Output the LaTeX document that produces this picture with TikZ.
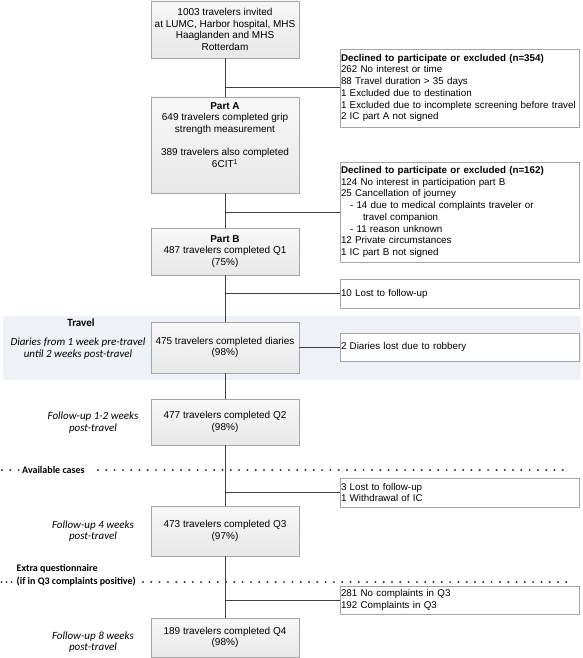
\documentclass[tikz,border=0pt]{standalone}
\usepackage{fontspec}
\setmainfont{Liberation Sans}
\newfontfamily\calfont{Carlito}
\definecolor{bandcol}{RGB}{238,242,246}
\definecolor{linecol}{RGB}{64,64,64}
\definecolor{dotcol}{RGB}{50,50,50}
\definecolor{bordercol}{RGB}{165,165,165}
\definecolor{boxtop}{RGB}{248,248,248}
\definecolor{boxbot}{RGB}{232,232,232}
\begin{document}
\begin{tikzpicture}[x=1pt,y=-1pt,
  mainbox/.style={draw=bordercol, line width=0.8pt, top color=boxtop, bottom color=boxbot,
    minimum width=148pt, align=center, inner sep=1pt,
    font=\fontsize{10}{11.7}\selectfont},
  sidebox/.style={draw=bordercol, line width=0.8pt, fill=white,
    minimum width=239pt, text width=237pt, inner xsep=1pt, inner ysep=0pt,
    align=left, font=\fontsize{9.8}{11.7}\selectfont},
  conn/.style={draw=linecol, line width=1pt},
  dotmark/.style={fill=dotcol},
  boldlab/.style={font=\fontsize{10}{13}\selectfont\calfont\bfseries, inner sep=0pt},
  itlab/.style={font=\fontsize{11}{11.5}\selectfont\calfont\itshape, align=center, inner sep=0pt}
]
\useasboundingbox (0,0) rectangle (583,658);

% travel band
\fill[bandcol] (3,316) rectangle (581,380);

% main column
\node[mainbox, minimum height=57pt] (box1) at (225,29.5)
  {1003 travelers invited\\at LUMC, Harbor hospital, MHS\\Haaglanden and MHS\\Rotterdam};
\node[mainbox, minimum height=96pt] (partA) at (225,145)
  {\textbf{Part A}\\649 travelers completed grip\\strength measurement\\[11.7pt]389 travelers also completed\\6CIT\textsuperscript{1}\\[8.3pt]\mbox{}};
\node[mainbox, minimum height=47pt] (partB) at (225,251.5)
  {\textbf{Part B}\\487 travelers completed Q1\\(75\%)};
\node[mainbox, minimum height=51pt] (b475) at (225,347.5)
  {475 travelers completed diaries\\(98\%)};
\node[mainbox, minimum height=46pt] (q2) at (225,422)
  {477 travelers completed Q2\\(98\%)};
\node[mainbox, minimum height=50pt] (q3) at (225,531)
  {473 travelers completed Q3\\(97\%)};
\node[mainbox, minimum height=39pt] (q4) at (225,637.5)
  {189 travelers completed Q4\\(98\%)};

% side boxes
\node[sidebox, minimum height=78pt] (dec1) at (459.5,88)
  {\textbf{Declined to participate or excluded (n=354)}\\
   262 No interest or time\\
   88 Travel duration > 35 days\\
   1 Excluded due to destination\\
   1 Excluded due to incomplete screening before travel\\
   2 IC part A not signed};
\node[sidebox, minimum height=100pt] (dec2) at (459.5,212)
  {\textbf{Declined to participate or excluded (n=162)}\\
   124 No interest in participation part B\\
   25 Cancellation of journey\\
   \hspace*{9pt}- 14 due to medical complaints traveler or\\
   \hspace*{22pt}travel companion\\
   \hspace*{9pt}- 11 reason unknown\\
   12 Private circumstances\\
   1 IC part B not signed};
\node[sidebox, minimum height=29pt] (lost1) at (459.5,293.5) {10 Lost to follow-up};
\node[sidebox, minimum height=28pt] (diaries) at (459.5,347) {2 Diaries lost due to robbery};
\node[sidebox, minimum height=29pt] (lost3) at (459.5,492.5)
  {3 Lost to follow-up\\1 Withdrawal of IC};
\node[sidebox, minimum height=28pt] (compl) at (459.5,600)
  {281 No complaints in Q3\\192 Complaints in Q3};

% left labels
\node[boldlab, font=\fontsize{11}{13}\selectfont\calfont\bfseries] (travel) at (81,323) {Travel};
\node[itlab] (diarylab) at (78,348.5) {Diaries from 1 week pre-travel\\until 2 weeks post-travel};
\node[itlab] (fu12) at (93,422.5) {Follow-up 1-2 weeks\\post-travel};
\node[itlab] (fu4) at (93,531) {Follow-up 4 weeks\\post-travel};
\node[itlab] (fu8) at (93,642) {Follow-up 8 weeks\\post-travel};
\node[boldlab, anchor=west] (avail) at (22,470) {Available cases};
\node[boldlab, anchor=west, align=left] (extra) at (16.5,575.5)
  {Extra questionnaire\\(if in Q3 complaints positive)};

% dotted separators
\foreach \ii in {0,1,2} \fill[dotmark] (2+8.3*\ii,470) circle (1.1);
\foreach \ii in {0,...,56} \fill[dotmark] (98+8.3*\ii,470) circle (1.1);
\foreach \ii in {0,1,2} \fill[dotmark] (1.6+5*\ii,582) circle (1.1);
\foreach \ii in {0,...,51} \fill[dotmark] (143+8.3*\ii,582) circle (1.1);

% spine connectors
\draw[conn] (box1) -- (partA);
\draw[conn] (partA) -- (partB);
\draw[conn] (partB) -- (b475);
\draw[conn] (b475) -- (q2);
\draw[conn] (q2) -- (q3);
\draw[conn] (q3) -- (q4);

% branches
\draw[conn] (box1.south |- dec1.west) -- (dec1.west);
\draw[conn] (partA.south |- dec2.west) -- (dec2.west);
\draw[conn] (partB.south |- lost1.west) -- (lost1.west);
\draw[conn] (b475.east |- diaries.west) -- (diaries.west);
\draw[conn] (q2.south |- lost3.west) -- (lost3.west);
\draw[conn] (q3.south |- compl.west) -- (compl.west);
\end{tikzpicture}
\end{document}
